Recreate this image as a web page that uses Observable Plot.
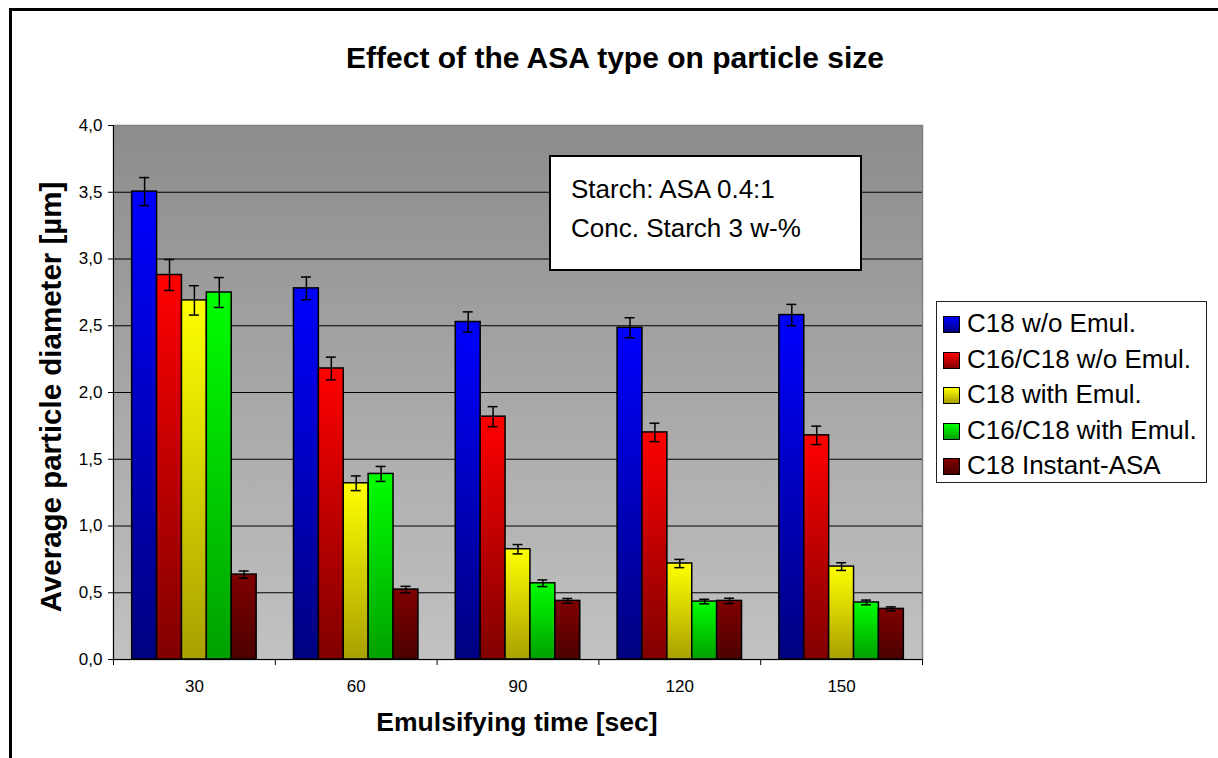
<!DOCTYPE html>
<html>
<head>
<meta charset="utf-8">
<script src="https://cdn.jsdelivr.net/npm/d3@7"></script>
<script src="https://cdn.jsdelivr.net/npm/@observablehq/plot@0.6"></script>
<style>
  html, body { margin: 0; padding: 0; background: #fff; overflow: hidden; }
  #wrap { position: relative; width: 1218px; height: 758px; overflow: hidden; font-family: "Liberation Sans", Arial, sans-serif; color: #000; }
  #outer { position: absolute; left: 9px; top: 8px; width: 1400px; height: 900px; border-left: 3px solid #000; border-top: 3px solid #000; }
  #chart { position: absolute; left: 0; top: 0; }
  .title { position: absolute; white-space: nowrap; font-weight: bold; line-height: 1; }
  #legend { position: absolute; left: 936px; top: 301px; width: 271px; height: 182px; box-sizing: border-box; border: 1.5px solid #222; background: #fff; padding-top: 4px; }
  .item { height: 35.5px; line-height: 35.5px; font-size: 26px; white-space: nowrap; position: relative; padding-left: 30px; }
  .sw { position: absolute; left: 6px; top: 10px; width: 15px; height: 15px; border: 1px solid #000; }
  #note { position: absolute; left: 549px; top: 155px; width: 313px; height: 116px; box-sizing: border-box; border: 2px solid #000; background: #fff; padding: 13px 0 0 20px; font-size: 26px; line-height: 39px; white-space: nowrap; }
</style>
</head>
<body>
<div id="wrap">
  <div id="outer"></div>
  <div id="chart"></div>
</div>
<script>
// ---- data ----
const times = ["30", "60", "90", "120", "150"];
const seriesNames = ["C18 w/o Emul.", "C16/C18 w/o Emul.", "C18 with Emul.", "C16/C18 with Emul.", "C18 Instant-ASA"];
const c18NoEmul      = [3.505, 2.78, 2.528, 2.485, 2.58];
const c1618NoEmul    = [2.88, 2.18, 1.819, 1.701, 1.679];
const c18Emul        = [2.69, 1.32, 0.826, 0.719, 0.696];
const c1618Emul      = [2.749, 1.39, 0.571, 0.434, 0.427];
const c18Instant     = [0.636, 0.524, 0.439, 0.439, 0.379];
const errC18NoEmul   = [0.105, 0.085, 0.076, 0.075, 0.08];
const errC1618NoEmul = [0.116, 0.085, 0.075, 0.069, 0.069];
const errC18Emul     = [0.11, 0.055, 0.035, 0.031, 0.029];
const errC1618Emul   = [0.112, 0.056, 0.025, 0.017, 0.018];
const errC18Instant  = [0.027, 0.024, 0.018, 0.02, 0.015];
const yTicks = [0, 0.5, 1, 1.5, 2, 2.5, 3, 3.5, 4];
const gridValues = [0.5, 1, 1.5, 2, 2.5, 3, 3.5];
const topColors = ["#0000ff", "#ff0000", "#ffff00", "#00ff00", "#800000"];
const bottomColors = ["#000080", "#800000", "#a8a000", "#00a000", "#4c0000"];

const values = [c18NoEmul, c1618NoEmul, c18Emul, c1618Emul, c18Instant];
const errors = [errC18NoEmul, errC1618NoEmul, errC18Emul, errC1618Emul, errC18Instant];

// Excel layout: 5 bars + gap width 150% per category
const nS = seriesNames.length;
const slots = nS + 1.5;
const rows = [];
values.forEach((arr, j) => arr.forEach((v, i) => rows.push({i, j, v, e: errors[j][i]})));
const x1 = d => d.i + (0.75 + d.j) / slots;
const x2 = d => d.i + (1.75 + d.j) / slots;
const xc = d => d.i + (1.25 + d.j) / slots;
const cap = 0.2 / slots;

const fmt = d => d.toFixed(1).replace(".", ",");

const marks = [
  Plot.frame({fill: "url(#bgGrad)", stroke: "#808080", strokeWidth: 1.5}),
  Plot.ruleY(gridValues, {stroke: "#000", strokeWidth: 1})
];
seriesNames.forEach((name, j) => {
  const r = rows.filter(d => d.j === j);
  marks.push(Plot.rect(r, {x1, x2, y1: 0, y2: "v", fill: `url(#barGrad${j})`, stroke: "#000", strokeWidth: 1.5}));
});
marks.push(
  Plot.ruleX(rows, {x: xc, y1: d => d.v - d.e, y2: d => d.v + d.e, stroke: "#000", strokeWidth: 1.5}),
  Plot.ruleY(rows, {y: d => d.v + d.e, x1: d => xc(d) - cap, x2: d => xc(d) + cap, stroke: "#000", strokeWidth: 1.5}),
  Plot.ruleY(rows, {y: d => d.v - d.e, x1: d => xc(d) - cap, x2: d => xc(d) + cap, stroke: "#000", strokeWidth: 1.5}),
  Plot.ruleX([0], {stroke: "#000", strokeWidth: 1}),
  Plot.ruleY([0], {stroke: "#000", strokeWidth: 1}),
  Plot.axisY({ticks: yTicks, tickFormat: fmt, tickSize: 5, tickPadding: 6, label: null, fontSize: 17, stroke: "#000"}),
  Plot.axisX({ticks: d3.range(times.length + 1), tickFormat: () => "", tickSize: 6, label: null, stroke: "#000"}),
  Plot.axisX({ticks: times.map((t, i) => i + 0.5), tickFormat: d => times[Math.floor(d)], tickSize: 0, tickPadding: 20, label: null, fontSize: 17})
);

const svg = Plot.plot({
  width: 1218,
  height: 758,
  marginLeft: 113,
  marginRight: 296,
  marginTop: 125,
  marginBottom: 99,
  x: {domain: [0, times.length], axis: null},
  y: {domain: [0, 4], axis: null},
  style: {fontFamily: "'Liberation Sans', Arial, sans-serif", fontSize: "17px", background: "transparent", color: "#000", overflow: "visible"},
  marks
});

// gradients
const defs = d3.select(svg).insert("defs", ":first-child");
const bg = defs.append("linearGradient").attr("id", "bgGrad").attr("x1", 0).attr("y1", 0).attr("x2", 0).attr("y2", 1);
bg.append("stop").attr("offset", "0%").attr("stop-color", "#8c8c8c");
bg.append("stop").attr("offset", "100%").attr("stop-color", "#c2c2c2");
topColors.forEach((c, j) => {
  const g = defs.append("linearGradient").attr("id", `barGrad${j}`).attr("x1", 0).attr("y1", 0).attr("x2", 0).attr("y2", 1);
  g.append("stop").attr("offset", "0%").attr("stop-color", c);
  g.append("stop").attr("offset", "100%").attr("stop-color", bottomColors[j]);
});
document.getElementById("chart").appendChild(svg);

const wrap = document.getElementById("wrap");
function addTitle(text, css) {
  const d = document.createElement("div");
  d.className = "title";
  d.textContent = text;
  d.style.cssText += css;
  wrap.appendChild(d);
  return d;
}
addTitle("Effect of the ASA type on particle size", "left:615px; top:43px; font-size:30px; transform:translateX(-50%);");
addTitle("Emulsifying time [sec]", "left:517px; top:709px; font-size:26.5px; transform:translateX(-50%);");
addTitle("Average particle diameter [µm]", "left:51px; top:397px; font-size:29.5px; transform:translate(-50%,-50%) rotate(-90deg);");

// annotation
const note = document.createElement("div");
note.id = "note";
note.innerHTML = "<div>Starch: ASA 0.4:1</div><div>Conc. Starch 3 w-%</div>";
wrap.appendChild(note);

// legend
const legend = document.createElement("div");
legend.id = "legend";
seriesNames.forEach((name, j) => {
  const it = document.createElement("div");
  it.className = "item";
  const sw = document.createElement("span");
  sw.className = "sw";
  sw.style.background = `linear-gradient(${topColors[j]}, ${bottomColors[j]})`;
  it.appendChild(sw);
  it.appendChild(document.createTextNode(name));
  legend.appendChild(it);
});
wrap.appendChild(legend);
</script>
</body>
</html>
